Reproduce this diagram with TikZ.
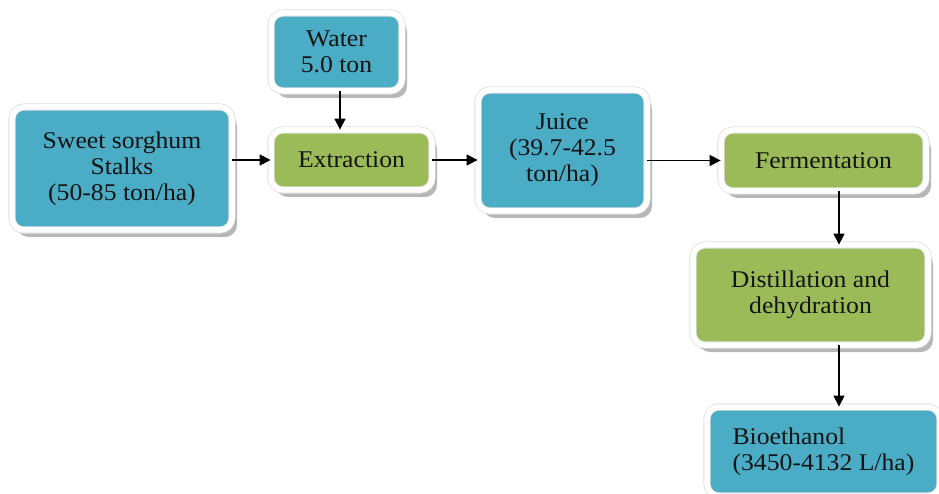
\documentclass[tikz,border=0pt]{standalone}
\usepackage{fontspec}
\setmainfont{Liberation Serif}[FakeStretch=1.07]
\usetikzlibrary{arrows.meta,shadows}
\definecolor{boxblue}{HTML}{4BACC6}
\definecolor{boxgreen}{HTML}{9BBB59}
\begin{document}
\begin{tikzpicture}[x=1pt,y=-1pt,
  flowbox/.style={rectangle, rounded corners=12pt,
    draw=gray!25, double=white, double distance=5.5pt, line width=0.8pt,
    drop shadow={shadow xshift=5pt, shadow yshift=-7pt, fill=gray!75, opacity=0.75},
    font=\fontsize{24}{26}\selectfont, text=black!92, align=center,
    inner sep=0pt},
  stock/.style={flowbox, fill=boxblue},
  process/.style={flowbox, fill=boxgreen},
  flow/.style={-{Triangle[length=11pt,width=11pt]}, line width=1.4pt, black}]
\useasboundingbox (0,0) rectangle (939,494);
\clip (0,0) rectangle (939,494);

% material streams (blue) and process steps (green)
\node[stock, minimum width=220, minimum height=123] (sorg) at (122,168.5)
  {Sweet sorghum\\Stalks\\(50-85 ton/ha)};
\node[stock, minimum width=131, minimum height=78] (water) at (336.5,52)
  {Water\\5.0 ton};
\node[process, minimum width=161, minimum height=60] (extr) at (351.5,160)
  {Extraction};
\node[stock, minimum width=169, minimum height=121] (juice) at (562.5,150.5)
  {Juice\\(39.7-42.5\\ton/ha)};
\node[process, minimum width=205, minimum height=61] (ferm) at (823.5,160.5)
  {Fermentation};
\node[process, minimum width=235, minimum height=100] (dist) at (810.5,295)
  {Distillation and\\dehydration};
\node[stock, minimum width=233, minimum height=89, align=left] (bio) at (823.5,451.5)
  {Bioethanol\\(3450-4132 L/ha)};

% vertical line of the lower chain
\coordinate (vx) at (839,0);

\draw[flow] (sorg.east |- extr) -- (extr.west);
\draw[flow] (water.south -| 340,0) -- (extr.north -| 340,0);
\draw[flow] (extr.east) -- (juice.west |- extr);
\draw[flow] (juice.east |- ferm) -- (ferm.west);
\draw[flow] (ferm.south -| vx) -- (dist.north -| vx);
\draw[flow] (dist.south -| vx) -- (bio.north -| vx);
\end{tikzpicture}
\end{document}
